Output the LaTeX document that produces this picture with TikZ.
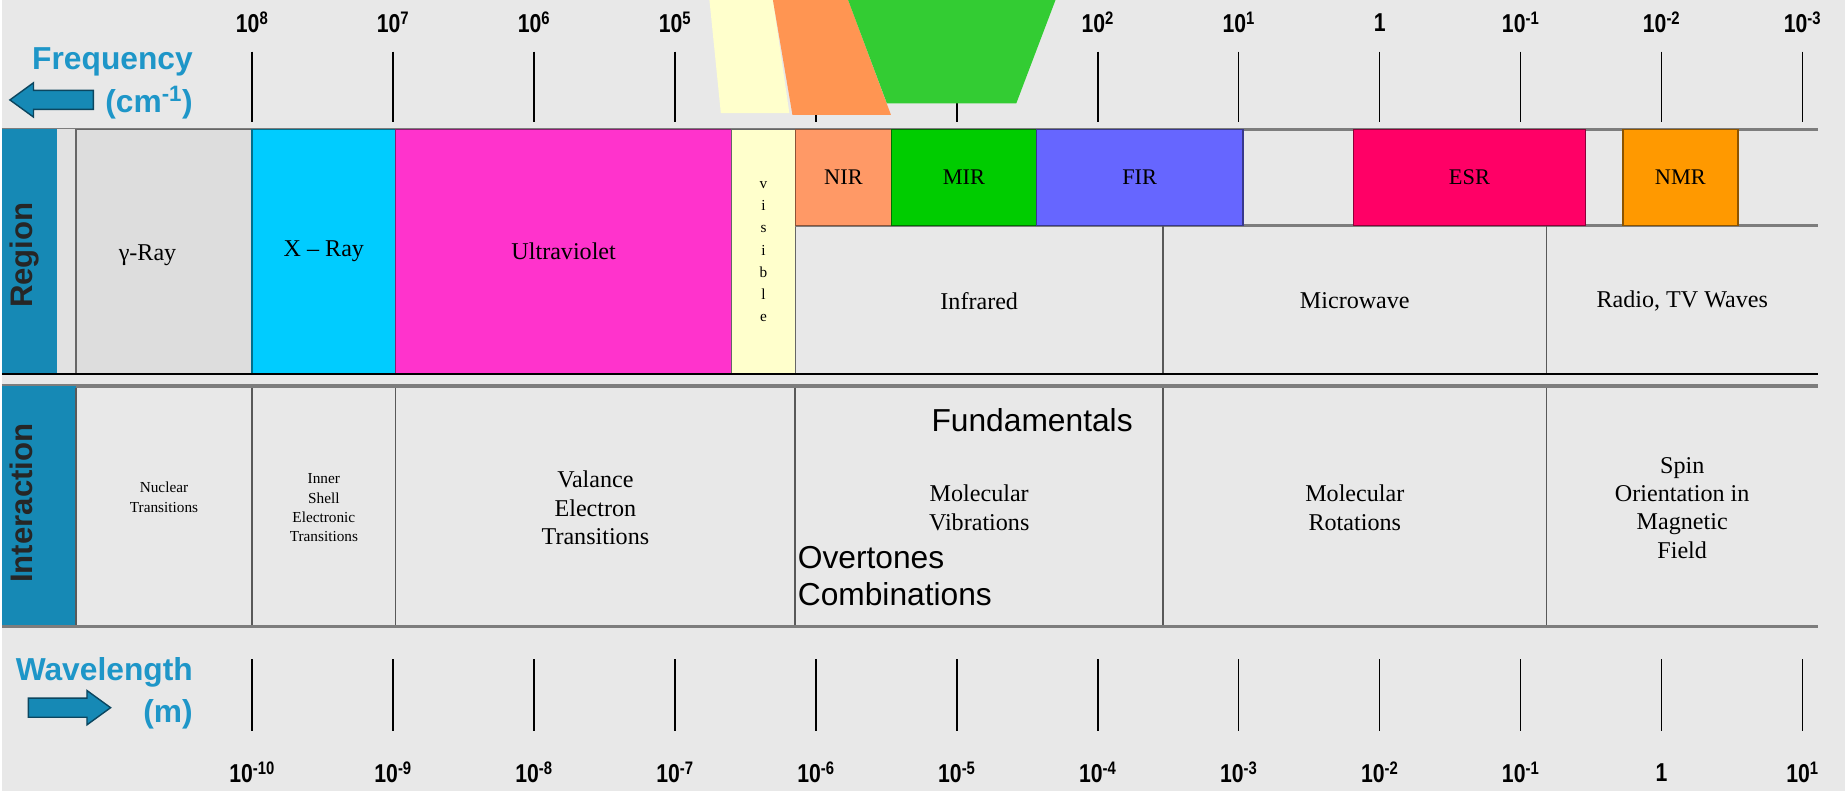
\documentclass[tikz,border=0pt]{standalone}
\usepackage{fontspec}
\setmainfont{Liberation Serif}
\setsansfont{Liberation Sans}
\newfontfamily\narrowsans{Liberation Sans}[FakeStretch=0.82]
\usetikzlibrary{arrows.meta,positioning,shapes.arrows}
\definecolor{bggray}{RGB}{232,232,232}
\definecolor{gammagray}{RGB}{221,221,221}
\definecolor{gapgray}{RGB}{226,226,226}
\definecolor{barblue}{RGB}{22,137,181}
\definecolor{arrowedge}{RGB}{12,70,95}
\definecolor{axisblue}{RGB}{30,150,200}
\definecolor{xcyan}{RGB}{0,204,255}
\definecolor{uvpink}{RGB}{255,51,204}
\definecolor{visyellow}{RGB}{255,255,204}
\definecolor{nirorange}{RGB}{255,153,102}
\definecolor{mirgreen}{RGB}{0,204,0}
\definecolor{firblue}{RGB}{102,102,255}
\definecolor{esrred}{RGB}{255,0,102}
\definecolor{nmrorange}{RGB}{255,153,0}
\definecolor{traporange}{RGB}{255,149,82}
\definecolor{trapgreen}{RGB}{51,204,51}
\definecolor{rulegray}{RGB}{125,125,125}
\tikzset{
cell/.style={draw=black!60,line width=1.2pt,inner sep=0pt,align=center,font=\fontsize{20.5}{24}\selectfont},
bandcell/.style={cell,minimum height=82pt,font=\fontsize{19}{22}\selectfont},
celltext/.style={align=center,font=\fontsize{20.5}{24.5}\selectfont},
tinytext/.style={align=center,font=\fontsize{13}{16.5}\selectfont},
sanstext/.style={font=\sffamily\fontsize{27}{30}\selectfont},
rowname/.style={rotate=90,anchor=base,font=\sffamily\bfseries\fontsize{26.5}{28}\selectfont,text=black!85},
rowbar/.style={fill=barblue,inner sep=0pt},
scalelbl/.style={font=\narrowsans\bfseries\fontsize{22}{22}\selectfont},
scaletick/.style={line width=1.2pt},
gridline/.style={draw=black!65,line width=1.3pt},
rowrule/.style={draw=rulegray,line width=3pt},
darkrule/.style={draw=black,line width=2pt},
axisname/.style={align=right,anchor=east,font=\sffamily\bfseries\fontsize{27}{36}\selectfont,text=axisblue},
blockarrow/.style={single arrow,draw=arrowedge,line width=1.2pt,fill=barblue,minimum height=70pt,minimum width=28pt,single arrow head extend=6.5pt,single arrow tip angle=72,inner sep=7.5pt}
}
\begin{document}
\begin{tikzpicture}[x=1pt,y=-1pt]
\fill[bggray] (0,0) rectangle (1568,673);

\foreach \i in {0,...,11}
  \draw[scaletick] ({213+119.9*\i},44) -- ({213+119.9*\i},104);
\foreach \i/\e in {0/8,1/7,2/6,3/5,6/2,7/1,9/-1,10/-2,11/-3}
  \node[scalelbl] (f\i) at ({213+119.9*\i},19) {10\textsuperscript{\e}};
\node[scalelbl] (f8) at ({213+119.9*8},19) {1};

\fill[visyellow] (602,0) -- (656,0) -- (670,96.3) -- (611.7,96.3) -- cycle;
\fill[traporange] (656,0) -- (720,0) -- (756.4,97.7) -- (672.6,97.7) -- cycle;
\fill[trapgreen] (720,0) -- (896.4,0) -- (863,88) -- (753,88) -- cycle;

\draw[rowrule] (0,110) -- (1545,110);
\node[rowbar,minimum width=47pt,minimum height=208pt] (regionbar) at (23.5,214) {};
\node[rowname] (regionlbl) at (26,217) {Region};
\fill[gapgray] (47,110) rectangle (63,318);
\node[cell,fill=gammagray,minimum width=150pt,minimum height=208pt] (gamma) at (138,214) {};
\node[celltext] (gammalbl) at (124,217) {γ-Ray};
\node[cell,fill=xcyan,draw=xcyan!55!black,minimum width=122pt,minimum height=208pt] (xray) at (274,214) {X -- Ray};
\node[cell,fill=uvpink,draw=uvpink!55!black,minimum width=286pt,minimum height=208pt] (uv) at (478,214) {Ultraviolet};
\node[cell,fill=visyellow,minimum width=54pt,minimum height=208pt,font=\fontsize{13}{18.9}\selectfont] (vis) at (648,214) {v\\i\\s\\i\\b\\l\\e};

\draw[rowrule] (675,192) -- (1545,192);
\node[bandcell,fill=nirorange,draw=nirorange!55!black,minimum width=82pt] (nir) at (716,151) {NIR};
\node[bandcell,fill=mirgreen,draw=mirgreen!55!black,minimum width=123pt] (mir) at (818.5,151) {MIR};
\node[bandcell,fill=firblue,draw=firblue!55!black,minimum width=176pt] (fir) at (968,151) {FIR};
\node[bandcell,fill=esrred,draw=esrred!55!black,minimum width=197pt] (esr) at (1248.5,151) {ESR};
\node[bandcell,fill=nmrorange,draw=nmrorange!55!black,minimum width=98pt] (nmr) at (1428,151) {NMR};
\draw[gridline] (988,192) -- (988,318);
\draw[gridline] (1314,192) -- (1314,318);
\node[celltext] (ir) at (831.5,256) {Infrared};
\node[celltext] (micro) at (1151,256) {Microwave};
\node[celltext] (radio) at (1429.5,256) {Radio, TV Waves};
\draw[darkrule] (0,318) -- (1545,318);

\draw[rowrule] (0,328.5) -- (1545,328.5);
\node[rowbar,minimum width=63pt,minimum height=205pt] (interbar) at (31.5,430.5) {};
\node[rowname] (interlbl) at (26.5,428) {Interaction};
\foreach \x in {63,213,335,675,988,1314}
  \draw[gridline] (\x,330) -- (\x,533);
\draw[rowrule] (0,533) -- (1545,533);
\node[tinytext] (nuclear) at (138,423) {Nuclear\\Transitions};
\node[tinytext] (inner) at (274,432) {Inner\\Shell\\Electronic\\Transitions};
\node[celltext,font=\fontsize{20.5}{24}\selectfont] (valence) at (505,432) {Valance\\Electron\\Transitions};
\node[celltext] (vibr) at (831.5,432) {Molecular\\Vibrations};
\node[celltext] (rot) at (1151,432) {Molecular\\Rotations};
\node[celltext,font=\fontsize{20.5}{24}\selectfont] (spin) at (1429.5,432) {Spin\\Orientation in\\Magnetic\\Field};
\node[sanstext] (fund) at (876.5,357) {Fundamentals};
\node[sanstext,anchor=west,inner sep=0pt] (overt) at (677,474.5) {Overtones};
\node[sanstext,anchor=west,inner sep=0pt] (comb) at (677,505.7) {Combinations};

\foreach \i in {0,...,11}
  \draw[scaletick] ({213+119.9*\i},561) -- ({213+119.9*\i},622);
\foreach \i/\e in {0/-10,1/-9,2/-8,3/-7,4/-6,5/-5,6/-4,7/-3,8/-2,9/-1,11/1}
  \node[scalelbl] (w\i) at ({213+119.9*\i},657) {10\textsuperscript{\e}};
\node[scalelbl] (w10) at ({213+119.9*10},657) {1};

\node[blockarrow,shape border rotate=180,minimum height=71pt] (freqarrow) at (48,85) {};
\node[axisname] (freqlbl) at (166,71) {Frequency\\(cm\textsuperscript{-1})};
\node[blockarrow] (wavearrow) at (52,602) {};
\node[axisname] (wavelbl) at (166,590) {Wavelength\\(m)};
\end{tikzpicture}
\end{document}
